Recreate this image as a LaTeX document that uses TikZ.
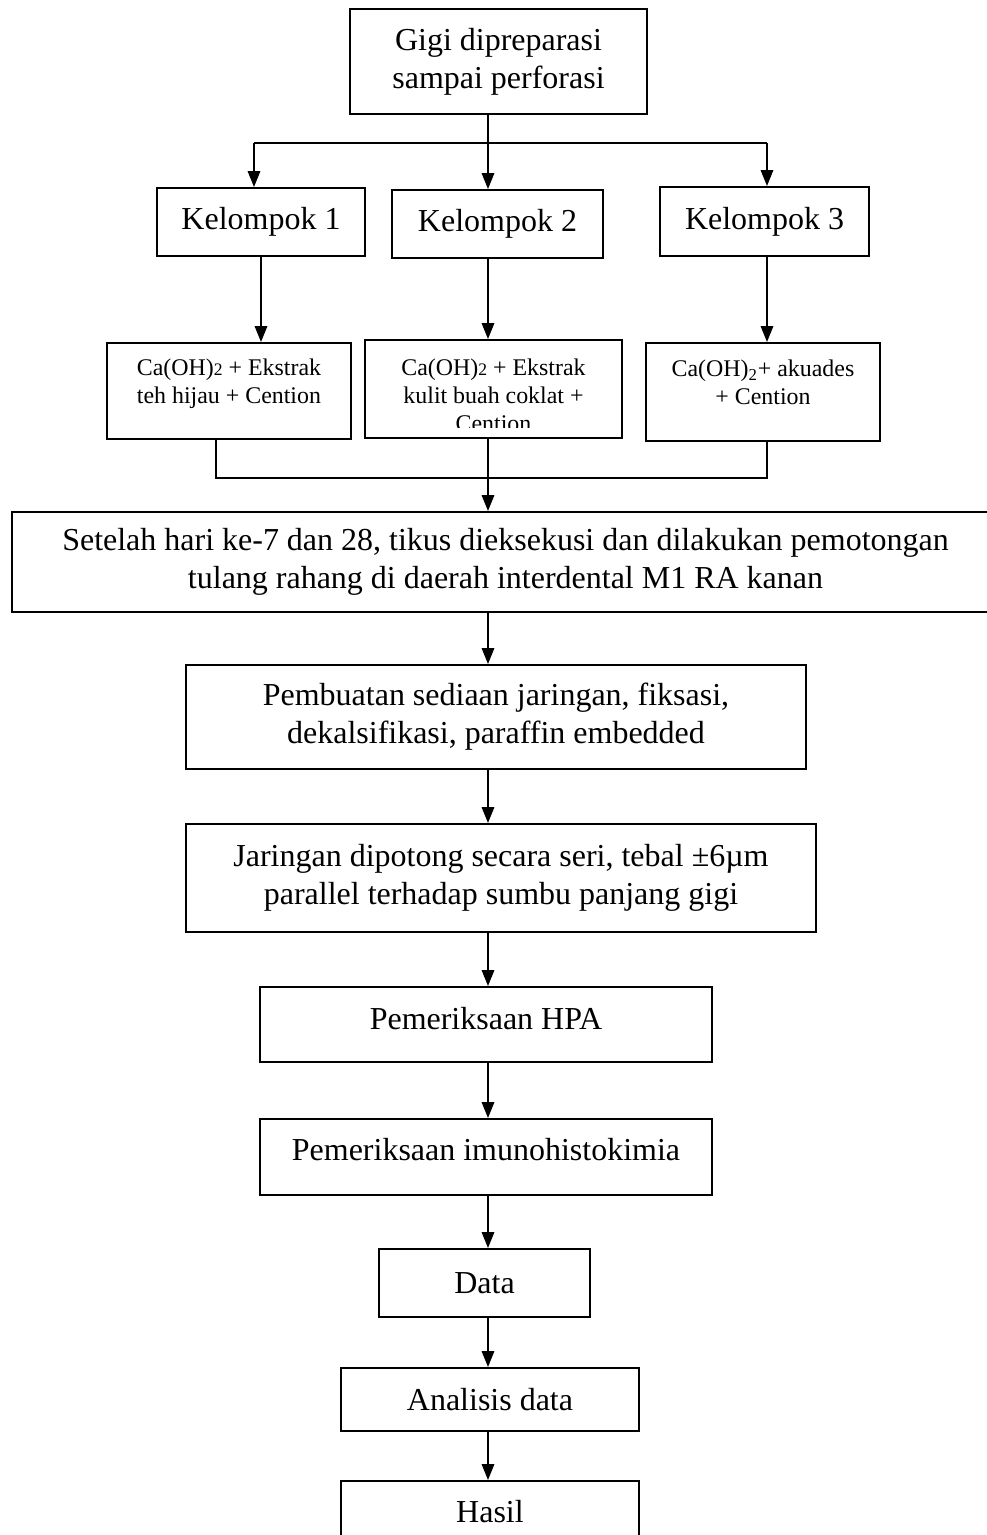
\documentclass[tikz,border=0pt]{standalone}
\usepackage{fontspec}
\setmainfont{Liberation Serif}
\usetikzlibrary{arrows.meta, positioning}

\newcommand{\duakecil}{{\fontsize{10}{10}\selectfont 2}}

\begin{document}
\begin{tikzpicture}[
    kotak/.style={rectangle, draw, line width=1.1pt, inner sep=0pt, align=center,
        font=\fontsize{18.2}{21.6}\selectfont},
    tekskecil/.style={inner sep=0pt, align=center, font=\fontsize{13.6}{15.9}\selectfont},
    garis/.style={line width=1.1pt},
    panah/.style={garis, -{Triangle[width=7pt, length=9pt]}}
]
    \useasboundingbox (0,0) rectangle (19.74,-30.70);
    \clip (0,0) rectangle (19.74,-30.70);

    % Start (tooth preparation)
    \node[kotak, minimum width=5.94cm, minimum height=2.1cm] (gigi) at (9.97,-1.23)
        {Gigi dipreparasi\\sampai perforasi};

    % Groups
    \node[kotak, minimum width=4.16cm, minimum height=1.36cm] (k1) at (5.22,-4.44) {Kelompok 1};
    \node[kotak, minimum width=4.22cm, minimum height=1.36cm] (k2) at (9.95,-4.48) {Kelompok 2};
    \node[kotak, minimum width=4.18cm, minimum height=1.38cm] (k3) at (15.29,-4.43) {Kelompok 3};

    % Treatments
    \node[kotak, minimum width=4.88cm, minimum height=1.92cm] (ca1) at (4.58,-7.82) {};
    \node[tekskecil, below=0.33cm of ca1.north] (ca1t)
        {Ca(OH)\duakecil{} + Ekstrak\\teh hijau + Cention};
    \node[kotak, minimum width=5.14cm, minimum height=1.96cm] (ca2) at (9.87,-7.78) {};
    \begin{scope}
        \clip (ca2.north west) rectangle ([yshift=0.22cm]ca2.south east);
        \node[tekskecil, below=0.40cm of ca2.north] (ca2t)
            {Ca(OH)\duakecil{} + Ekstrak\\kulit buah coklat +\\Cention};
    \end{scope}
    \node[kotak, minimum width=4.68cm, minimum height=1.96cm] (ca3) at (15.26,-7.84) {};
    \node[tekskecil, below=0.36cm of ca3.north] (ca3t)
        {Ca(OH)\textsubscript{2}+ akuades\\+ Cention};

    % Processing steps
    \node[kotak, minimum width=19.74cm, minimum height=2.0cm] (tikus) at (10.11,-11.24)
        {Setelah hari ke-7 dan 28, tikus dieksekusi dan dilakukan pemotongan\\
         tulang rahang di daerah interdental M1 RA kanan};
    \node[kotak, minimum width=12.4cm, minimum height=2.08cm] (buat) at (9.92,-14.34)
        {Pembuatan sediaan jaringan, fiksasi,\\dekalsifikasi, paraffin embedded};
    \node[kotak, minimum width=12.6cm, minimum height=2.16cm] (potong) at (10.02,-17.56)
        {Jaringan dipotong secara seri, tebal ±6µm\\parallel terhadap sumbu panjang gigi};
    \node[kotak, text depth=0.26cm, minimum width=9.04cm, minimum height=1.5cm] (hpa)
        at (9.72,-20.49) {Pemeriksaan HPA};
    \node[kotak, text depth=0.29cm, minimum width=9.04cm, minimum height=1.52cm] (imuno)
        at (9.72,-23.14) {Pemeriksaan imunohistokimia};
    \node[kotak, minimum width=4.22cm, minimum height=1.36cm] (data) at (9.69,-25.66) {Data};
    \node[kotak, minimum width=5.96cm, minimum height=1.26cm] (analisis) at (9.8,-27.99) {Analisis data};
    \node[kotak, minimum width=5.96cm, minimum height=1.24cm] (hasil) at (9.8,-30.24) {Hasil};

    % Junction points
    \coordinate (spine) at (9.76,0);
    \coordinate (cabang) at (9.76,-2.86);
    \coordinate (cabangL) at (5.08,-2.86);
    \coordinate (cabangR) at (15.34,-2.86);
    \coordinate (kumpul) at (9.76,-9.56);
    \coordinate (kumpulL) at (4.32,-9.56);
    \coordinate (kumpulR) at (15.34,-9.56);

    % Branch to groups
    \draw[garis] (gigi.south -| spine) -- (cabang);
    \draw[garis] (cabangL) -- (cabangR);
    \draw[panah] (cabangL) -- (cabangL |- k1.north);
    \draw[panah] (cabang) -- (cabang |- k2.north);
    \draw[panah] (cabangR) -- (cabangR |- k3.north);

    % Groups to treatments
    \draw[panah] (k1.south) -- (k1.south |- ca1.north);
    \draw[panah] (k2.south -| spine) -- (spine |- ca2.north);
    \draw[panah] (k3.south -| kumpulR) -- (kumpulR |- ca3.north);

    % Merge
    \draw[garis] (ca1.south -| kumpulL) -- (kumpulL) -- (kumpulR) -- (kumpulR |- ca3.south);
    \draw[garis] (ca2.south -| kumpul) -- (kumpul);
    \draw[panah] (kumpul) -- (kumpul |- tikus.north);

    % Main chain
    \draw[panah] (tikus.south -| spine) -- (spine |- buat.north);
    \draw[panah] (buat.south -| spine) -- (spine |- potong.north);
    \draw[panah] (potong.south -| spine) -- (spine |- hpa.north);
    \draw[panah] (hpa.south -| spine) -- (spine |- imuno.north);
    \draw[panah] (imuno.south -| spine) -- (spine |- data.north);
    \draw[panah] (data.south -| spine) -- (spine |- analisis.north);
    \draw[panah] (analisis.south -| spine) -- (spine |- hasil.north);

\end{tikzpicture}
\end{document}
